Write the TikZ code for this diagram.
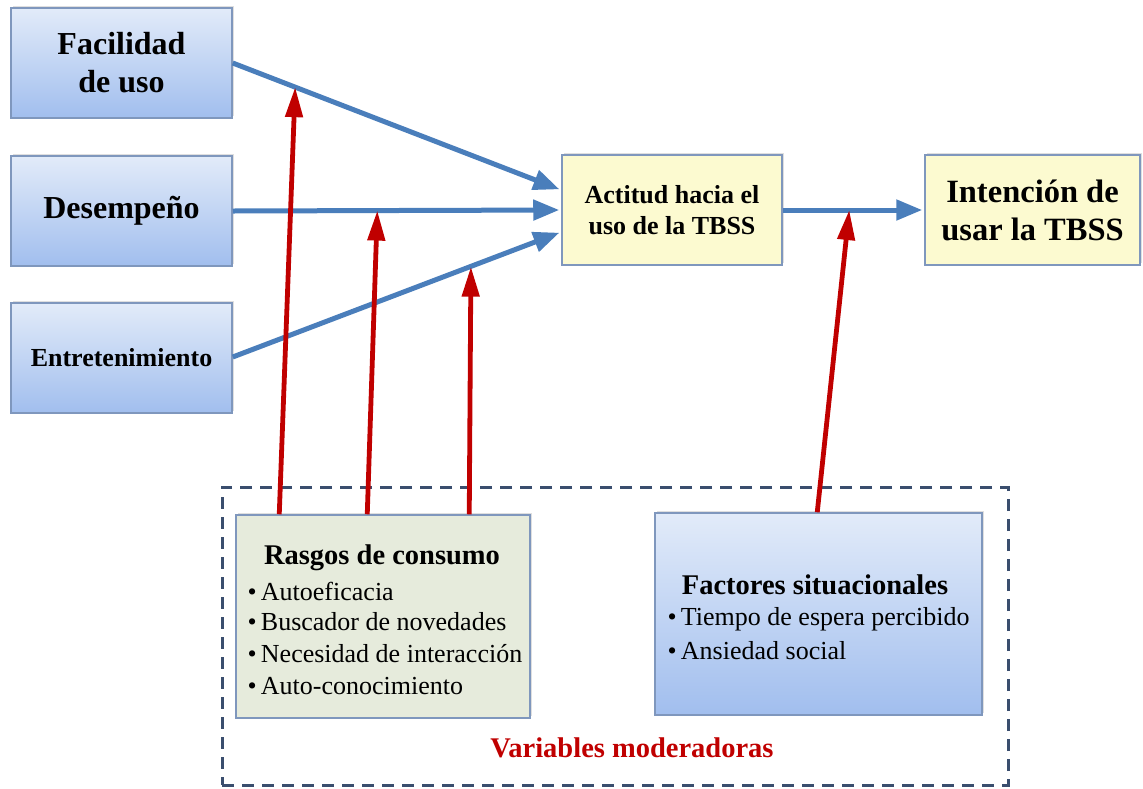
\documentclass[tikz,border=0pt]{standalone}
\usepackage{fontspec}
\setmainfont{Liberation Serif}
\usetikzlibrary{arrows.meta,calc,shadows}

\definecolor{flowblue}{HTML}{4A7EBB}
\definecolor{modred}{HTML}{C00000}
\definecolor{boxedge}{HTML}{7F97BD}
\definecolor{blueTop}{HTML}{E2EBF9}
\definecolor{blueBot}{HTML}{A1BEEE}
\definecolor{paleyellow}{HTML}{FCFAD0}
\definecolor{palegreen}{HTML}{E6EBDC}
\definecolor{dashgray}{HTML}{3A4E6E}

\tikzset{
  boxbase/.style={draw=boxedge, line width=1.5pt, inner sep=0pt,
    drop shadow={shadow xshift=2pt, shadow yshift=2pt, opacity=0.25, fill=gray}},
  bluebox/.style={boxbase, top color=blueTop, bottom color=blueBot,
    minimum width=221pt, minimum height=110pt, align=center},
  yellowbox/.style={boxbase, fill=paleyellow, minimum width=220pt,
    minimum height=110pt, align=center},
  flow/.style={draw=flowblue, line width=5pt,
    -{Triangle[length=26pt,width=20pt]}, shorten >=2pt},
  moderate/.style={draw=modred, line width=4.8pt,
    -{Triangle[length=30pt,width=17pt]}},
  bigtxt/.style={font=\fontsize{32}{38}\selectfont\bfseries},
  midtxt/.style={font=\fontsize{26}{31}\selectfont\bfseries},
  headtxt/.style={font=\fontsize{28.5}{33}\selectfont\bfseries},
  itemtxt/.style={font=\fontsize{26}{31.5}\selectfont, anchor=west},
}

\begin{document}
\begin{tikzpicture}[x=1pt,y=-1pt]
  \useasboundingbox (0,0) rectangle (1143,788);

  % predictor boxes
  \node[bluebox, bigtxt] (fac) at (121.5,63) {Facilidad\\de uso};
  \node[bluebox, bigtxt] (des) at (121.5,211) {Desempeño};
  \node[bluebox, font=\fontsize{26}{30}\selectfont\bfseries] (ent) at (121.5,358) {Entretenimiento};

  % attitude and intention
  \node[yellowbox, midtxt] (act) at (672,210) {Actitud hacia el\\uso de la TBSS};
  \node[yellowbox, font=\fontsize{32.5}{38}\selectfont\bfseries, minimum width=215pt] (int) at (1032.5,210) {Intención de\\usar la TBSS};

  % moderators frame
  \node[draw=dashgray, line width=3pt, dash pattern=on 12pt off 8pt,
        minimum width=786pt, minimum height=298pt, inner sep=0pt] (frame) at (615,636) {};
  \node[boxbase, fill=palegreen, minimum width=294pt, minimum height=203pt] (ras) at (383,616.5) {};
  \node[boxbase, top color=blueTop, bottom color=blueBot, minimum width=327pt, minimum height=202pt] (fsit) at (818.5,614) {};

  \node[headtxt] (rast) at (382,558) {Rasgos de consumo};
  \node[itemtxt] (r1) at (244,591) {\textbullet\,Autoeficacia};
  \node[itemtxt] (r2) at (244,622) {\textbullet\,Buscador de novedades};
  \node[itemtxt] (r3) at (244,654) {\textbullet\,Necesidad de interacción};
  \node[itemtxt] (r4) at (244,686) {\textbullet\,Auto-conocimiento};

  \node[headtxt] (fst) at (815,585) {Factores situacionales};
  \node[itemtxt] (f1) at (664,619) {\textbullet\,Tiempo de espera percibido};
  \node[itemtxt] (f2) at (664,651) {\textbullet\,Ansiedad social};

  \node[headtxt, text=modred] (modl) at (632,748) {Variables moderadoras};

  % main paths
  \coordinate (a1) at ($(act.west)+(0,-20)$);
  \coordinate (a3) at ($(act.west)+(0,22)$);
  \draw[flow] (fac.east) -- (a1);
  \draw[flow] (des.east) -- (act.west);
  \draw[flow] ($(ent.east)+(0,-1)$) -- (a3);
  \draw[flow] (act.east) -- (int.west);

  % points where the moderators act
  \coordinate (m1) at ($(fac.east)!0.19!(a1)$);
  \coordinate (m2) at ($(des.east)!0.44!(act.west)$);
  \coordinate (m3) at ($(ent.east)!0.725!(a3)$);
  \coordinate (m4) at ($(act.east)!0.47!(int.west)$);

  % moderating arrows
  \draw[moderate] ($(ras.north west)+(44,0)$) -- (m1);
  \draw[moderate] ($(ras.north west)+(132,0)$) -- (m2);
  \draw[moderate] ($(ras.north west)+(234,0)$) -- (m3);
  \draw[moderate] ($(fsit.north west)+(163,0)$) -- (m4);
\end{tikzpicture}
\end{document}
